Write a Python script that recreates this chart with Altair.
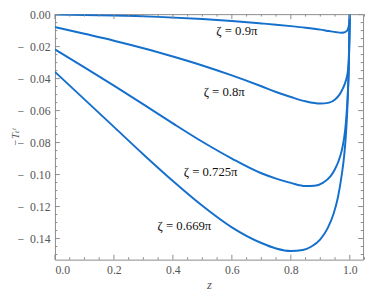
import altair as alt
import pandas as pd

# ---- data ----
series_names = ["0.9π", "0.8π", "0.725π", "0.669π"]

x_090 = [0.0, 0.1, 0.2, 0.35, 0.5, 0.6, 0.7, 0.75, 0.8, 0.85, 0.9, 0.93, 0.955, 0.97, 0.98, 0.988, 0.994, 0.998, 1.0]
y_090 = [0.0, -0.0002, -0.0005, -0.0014, -0.0028, -0.0040, -0.0055, -0.0063, -0.0072, -0.0082, -0.0094, -0.0103, -0.0110, -0.0113, -0.0112, -0.0105, -0.0088, -0.0055, 0.0]

x_080 = [0.0, 0.1, 0.2, 0.3, 0.4, 0.5, 0.6, 0.7, 0.75, 0.8, 0.85, 0.9, 0.93, 0.95, 0.965, 0.977, 0.987, 0.993, 0.997, 1.0]
y_080 = [-0.0078, -0.0120, -0.0163, -0.0210, -0.0262, -0.0318, -0.0380, -0.0448, -0.0484, -0.0515, -0.0542, -0.0556, -0.0550, -0.0530, -0.0500, -0.0460, -0.0410, -0.0360, -0.0250, 0.0]

x_0725 = [0.0, 0.1, 0.2, 0.3, 0.4, 0.5, 0.6, 0.7, 0.75, 0.8, 0.85, 0.88, 0.91, 0.935, 0.95, 0.962, 0.972, 0.98, 0.987, 0.993, 0.997, 1.0]
y_0725 = [-0.0218, -0.0330, -0.0444, -0.0561, -0.0680, -0.0795, -0.0900, -0.0992, -0.1025, -0.1052, -0.1072, -0.1070, -0.1050, -0.1010, -0.0965, -0.0915, -0.0855, -0.0780, -0.0670, -0.0500, -0.0300, 0.0]

x_0669 = [0.0, 0.1, 0.2, 0.3, 0.4, 0.5, 0.6, 0.7, 0.75, 0.8, 0.84, 0.87, 0.9, 0.925, 0.945, 0.96, 0.972, 0.981, 0.988, 0.993, 0.997, 1.0]
y_0669 = [-0.0358, -0.0530, -0.0702, -0.0874, -0.1040, -0.1195, -0.1330, -0.1428, -0.1462, -0.1478, -0.1472, -0.1450, -0.1405, -0.1335, -0.1245, -0.1140, -0.1010, -0.0880, -0.0720, -0.0530, -0.0300, 0.0]

label_texts = ["ζ = 0.9π", "ζ = 0.8π", "ζ = 0.725π", "ζ = 0.669π"]
label_x = [0.617, 0.574, 0.528, 0.439]
label_y = [-0.0102, -0.0487, -0.0985, -0.1320]

x_major = [0.0, 0.2, 0.4, 0.6, 0.8, 1.0]
x_minor = [0.05, 0.1, 0.15, 0.25, 0.3, 0.35, 0.45, 0.5, 0.55, 0.65, 0.7, 0.75, 0.85, 0.9, 0.95, 1.05]
y_major = [0.0, -0.02, -0.04, -0.06, -0.08, -0.10, -0.12, -0.14]
y_minor = [-0.005, -0.01, -0.015, -0.025, -0.03, -0.035, -0.045, -0.05, -0.055,
           -0.065, -0.07, -0.075, -0.085, -0.09, -0.095, -0.105, -0.11, -0.115,
           -0.125, -0.13, -0.135, -0.145, -0.15]

# ---- build tables ----
rows = []
for name, xs, ys in zip(series_names,
                        [x_090, x_080, x_0725, x_0669],
                        [y_090, y_080, y_0725, y_0669]):
    for xv, yv in zip(xs, ys):
        rows.append({"series": name, "x": xv, "y": yv})
df = pd.DataFrame(rows)
labels_df = pd.DataFrame({"text": label_texts, "x": label_x, "y": label_y})
xmaj_df = pd.DataFrame({"v": x_major})
xmin_df = pd.DataFrame({"v": x_minor})
ymaj_df = pd.DataFrame({"v": y_major})
ymin_df = pd.DataFrame({"v": y_minor})

BLUE = "#1470cc"
GRAY = "#8a8a8a"
TXT = "#555555"
FONT = "Liberation Serif, Times New Roman, DejaVu Serif, serif"

W, H = 315, 251
x_scale = alt.Scale(domain=[0, 1.045], nice=False, zero=False)
y_scale = alt.Scale(domain=[-0.1532, 0.0003], nice=False, zero=False)

lines = alt.Chart(df).mark_line(interpolate="monotone", color=BLUE, strokeWidth=2, clip=True).encode(
    x=alt.X("x:Q", scale=x_scale,
            axis=alt.Axis(title="z", values=x_major, format=".1f", ticks=False, domain=False,
                          grid=False, labelFont=FONT, labelFontSize=12, labelColor=TXT,
                          labelPadding=5, labelOverlap=False, titleFont=FONT, titleFontSize=13,
                          titleFontStyle="italic", titleFontWeight="normal",
                          titleColor=TXT, titlePadding=4)),
    y=alt.Y("y:Q", scale=y_scale,
            axis=alt.Axis(title="−Tₜᵗ", values=y_major,
                          labelExpr="datum.value < 0 ? '−\u00a0\u00a0' + format(-datum.value, '.2f') : format(datum.value, '.2f')",
                          ticks=False, domain=False, grid=False, labelFont=FONT,
                          labelFontSize=12, labelColor=TXT, labelPadding=5,
                          labelOverlap=False,
                          titleFont=FONT, titleFontSize=11, titleFontWeight="normal",
                          titleFontStyle="italic",
                          titleColor=TXT, titleX=-37, titleBaseline="alphabetic",
                          titleAngle=270, titleAlign="center")),
    detail="series:N",
)


def xticks(data, y0, y1):
    return alt.Chart(data).mark_rule(color=GRAY, strokeWidth=1).encode(
        x=alt.X("v:Q", scale=x_scale, axis=None), y=alt.value(y0), y2=alt.value(y1))


def yticks(data, x0, x1):
    return alt.Chart(data).mark_rule(color=GRAY, strokeWidth=1).encode(
        y=alt.Y("v:Q", scale=y_scale, axis=None), x=alt.value(x0), x2=alt.value(x1))


ticks = [
    xticks(xmaj_df, H, H - 5), xticks(xmin_df, H, H - 2.5),
    xticks(xmaj_df, 0, 5), xticks(xmin_df, 0, 2.5),
    yticks(ymaj_df, 0, 5), yticks(ymin_df, 0, 2.5),
    yticks(ymaj_df, W, W - 5), yticks(ymin_df, W, W - 2.5),
]

texts = alt.Chart(labels_df).mark_text(font=FONT, fontSize=13, color="#111111").encode(
    x=alt.X("x:Q", scale=x_scale, axis=None),
    y=alt.Y("y:Q", scale=y_scale, axis=None),
    text="text:N",
)

chart = alt.layer(lines, *ticks, texts).resolve_axis(
    x="independent", y="independent"
).properties(
    width=W, height=H,
    autosize=alt.AutoSizeParams(type="none"),
    padding={"left": 48, "top": 3, "right": 3, "bottom": 39},
).configure_view(stroke=GRAY, strokeWidth=1)

chart.save("out.html", embed_options={"renderer": "svg", "actions": False})
